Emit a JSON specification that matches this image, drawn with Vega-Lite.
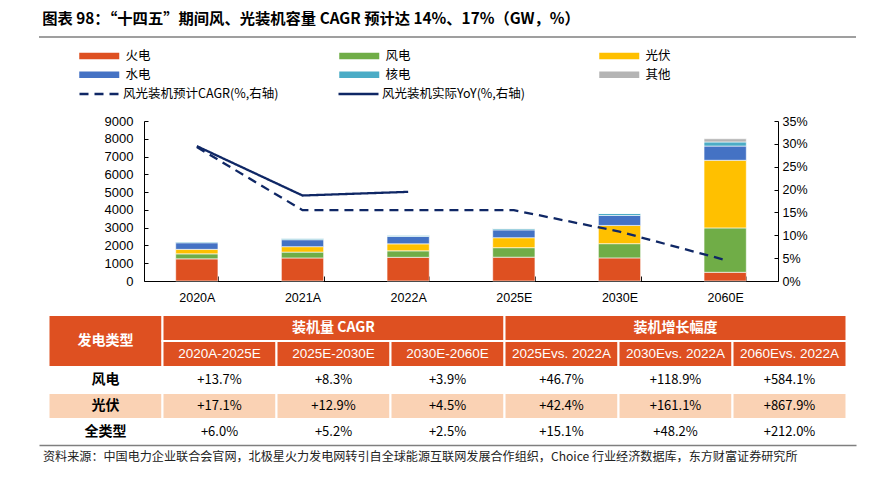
{
  "$schema": "https://vega.github.io/schema/vega-lite/v6.json",
  "background": "white",
  "padding": {"left": 38, "top": 11, "right": 8, "bottom": 4},
  "config": {
    "view": {"stroke": null},
    "font": "Noto Sans CJK SC",
    "axis": {"labelFont": "Liberation Sans", "labelColor": "#000000", "domainColor": "#000000", "tickColor": "#000000", "grid": false, "labelOverlap": false},
    "legend": {"padding": 0}
  },
  "title": {"text": "图表 98：“十四五”期间风、光装机容量 CAGR 预计达 14%、17%（GW，%）", "anchor": "start", "font": "Noto Sans CJK SC", "fontSize": 15.3, "fontWeight": "bold", "color": "#000000", "dx": 4, "offset": 9},
  "datasets": {
    "bars": [
      {"year": "2020A", "type": "火电", "gw": 1245, "k": 1},
      {"year": "2020A", "type": "风电", "gw": 282, "k": 2},
      {"year": "2020A", "type": "光伏", "gw": 253, "k": 3},
      {"year": "2020A", "type": "水电", "gw": 370, "k": 4},
      {"year": "2020A", "type": "核电", "gw": 50, "k": 5},
      {"year": "2021A", "type": "火电", "gw": 1297, "k": 1},
      {"year": "2021A", "type": "风电", "gw": 328, "k": 2},
      {"year": "2021A", "type": "光伏", "gw": 306, "k": 3},
      {"year": "2021A", "type": "水电", "gw": 391, "k": 4},
      {"year": "2021A", "type": "核电", "gw": 53, "k": 5},
      {"year": "2022A", "type": "火电", "gw": 1332, "k": 1},
      {"year": "2022A", "type": "风电", "gw": 365, "k": 2},
      {"year": "2022A", "type": "光伏", "gw": 393, "k": 3},
      {"year": "2022A", "type": "水电", "gw": 414, "k": 4},
      {"year": "2022A", "type": "核电", "gw": 56, "k": 5},
      {"year": "2025E", "type": "火电", "gw": 1340, "k": 1},
      {"year": "2025E", "type": "风电", "gw": 535, "k": 2},
      {"year": "2025E", "type": "光伏", "gw": 560, "k": 3},
      {"year": "2025E", "type": "水电", "gw": 440, "k": 4},
      {"year": "2025E", "type": "核电", "gw": 70, "k": 5},
      {"year": "2025E", "type": "其他", "gw": 6, "k": 6},
      {"year": "2030E", "type": "火电", "gw": 1300, "k": 1},
      {"year": "2030E", "type": "风电", "gw": 800, "k": 2},
      {"year": "2030E", "type": "光伏", "gw": 1026, "k": 3},
      {"year": "2030E", "type": "水电", "gw": 560, "k": 4},
      {"year": "2030E", "type": "核电", "gw": 110, "k": 5},
      {"year": "2030E", "type": "其他", "gw": 4, "k": 6},
      {"year": "2060E", "type": "火电", "gw": 490, "k": 1},
      {"year": "2060E", "type": "风电", "gw": 2497, "k": 2},
      {"year": "2060E", "type": "光伏", "gw": 3804, "k": 3},
      {"year": "2060E", "type": "水电", "gw": 800, "k": 4},
      {"year": "2060E", "type": "核电", "gw": 230, "k": 5},
      {"year": "2060E", "type": "其他", "gw": 180, "k": 6}
    ],
    "lines": [
      {"year": "2020A", "type": "风光装机预计CAGR(%,右轴)", "pct": 0.293},
      {"year": "2021A", "type": "风光装机预计CAGR(%,右轴)", "pct": 0.155},
      {"year": "2022A", "type": "风光装机预计CAGR(%,右轴)", "pct": 0.155},
      {"year": "2025E", "type": "风光装机预计CAGR(%,右轴)", "pct": 0.155},
      {"year": "2030E", "type": "风光装机预计CAGR(%,右轴)", "pct": 0.108},
      {"year": "2060E", "type": "风光装机预计CAGR(%,右轴)", "pct": 0.046},
      {"year": "2020A", "type": "风光装机实际YoY(%,右轴)", "pct": 0.295},
      {"year": "2021A", "type": "风光装机实际YoY(%,右轴)", "pct": 0.187},
      {"year": "2022A", "type": "风光装机实际YoY(%,右轴)", "pct": 0.195}
    ],
    "thead": [
      {"c0": "发电类型", "c1": "发电类型", "r0": "h1", "r1": "h2"},
      {"c0": "2020A-2025E", "c1": "2030E-2060E", "r0": "h1", "r1": "h1"},
      {"c0": "2025Evs. 2022A", "c1": "2060Evs. 2022A", "r0": "h1", "r1": "h1"},
      {"c0": "2020A-2025E", "c1": "2020A-2025E", "r0": "h2", "r1": "h2"},
      {"c0": "2025E-2030E", "c1": "2025E-2030E", "r0": "h2", "r1": "h2"},
      {"c0": "2030E-2060E", "c1": "2030E-2060E", "r0": "h2", "r1": "h2"},
      {"c0": "2025Evs. 2022A", "c1": "2025Evs. 2022A", "r0": "h2", "r1": "h2"},
      {"c0": "2030Evs. 2022A", "c1": "2030Evs. 2022A", "r0": "h2", "r1": "h2"},
      {"c0": "2060Evs. 2022A", "c1": "2060Evs. 2022A", "r0": "h2", "r1": "h2"}
    ],
    "thtext": [
      {"c": "发电类型", "r": "h1", "t": "发电类型"},
      {"c": "2025E-2030E", "r": "h1", "t": "装机量 CAGR"},
      {"c": "2030Evs. 2022A", "r": "h1", "t": "装机增长幅度"},
      {"c": "2020A-2025E", "r": "h2", "t": "2020A-2025E"},
      {"c": "2025E-2030E", "r": "h2", "t": "2025E-2030E"},
      {"c": "2030E-2060E", "r": "h2", "t": "2030E-2060E"},
      {"c": "2025Evs. 2022A", "r": "h2", "t": "2025Evs. 2022A"},
      {"c": "2030Evs. 2022A", "r": "h2", "t": "2030Evs. 2022A"},
      {"c": "2060Evs. 2022A", "r": "h2", "t": "2060Evs. 2022A"}
    ],
    "tbody": [
      {"row": "风电", "col": "发电类型", "t": "风电"},
      {"row": "风电", "col": "2020A-2025E", "t": "+13.7%"},
      {"row": "风电", "col": "2025E-2030E", "t": "+8.3%"},
      {"row": "风电", "col": "2030E-2060E", "t": "+3.9%"},
      {"row": "风电", "col": "2025Evs. 2022A", "t": "+46.7%"},
      {"row": "风电", "col": "2030Evs. 2022A", "t": "+118.9%"},
      {"row": "风电", "col": "2060Evs. 2022A", "t": "+584.1%"},
      {"row": "光伏", "col": "发电类型", "t": "光伏"},
      {"row": "光伏", "col": "2020A-2025E", "t": "+17.1%"},
      {"row": "光伏", "col": "2025E-2030E", "t": "+12.9%"},
      {"row": "光伏", "col": "2030E-2060E", "t": "+4.5%"},
      {"row": "光伏", "col": "2025Evs. 2022A", "t": "+42.4%"},
      {"row": "光伏", "col": "2030Evs. 2022A", "t": "+161.1%"},
      {"row": "光伏", "col": "2060Evs. 2022A", "t": "+867.9%"},
      {"row": "全类型", "col": "发电类型", "t": "全类型"},
      {"row": "全类型", "col": "2020A-2025E", "t": "+6.0%"},
      {"row": "全类型", "col": "2025E-2030E", "t": "+5.2%"},
      {"row": "全类型", "col": "2030E-2060E", "t": "+2.5%"},
      {"row": "全类型", "col": "2025Evs. 2022A", "t": "+15.1%"},
      {"row": "全类型", "col": "2030Evs. 2022A", "t": "+48.2%"},
      {"row": "全类型", "col": "2060Evs. 2022A", "t": "+212.0%"}
    ]
  },
  "vconcat": [
    {
      "spacing": 77,
      "vconcat": [
        {
          "width": 817,
          "height": 1,
          "data": {"values": [{"v": 0}]},
          "mark": {"type": "rule", "color": "#7F7F7F", "strokeWidth": 1.5},
          "encoding": {
            "x": {"datum": 0, "type": "quantitative", "scale": {"domain": [0, 1]}, "axis": null},
            "x2": {"datum": 1},
            "y": {"datum": 0, "type": "quantitative", "scale": {"domain": [0, 1], "reverse": true}, "axis": null}
          }
        },
        {
          "spacing": 0,
          "hconcat": [
            {
              "width": 65,
              "height": 160,
              "data": {"values": [{"v": 0}]},
              "mark": {"type": "text"},
              "encoding": {"text": {"value": ""}}
            },
            {
              "width": 634,
              "height": 160,
              "layer": [
                {
                  "data": {"name": "bars"},
                  "mark": {"type": "bar", "stroke": "white", "strokeWidth": 0.6},
                  "encoding": {
                    "x": {"field": "year", "type": "nominal", "sort": null,
                          "scale": {"domain": ["2020A", "2021A", "2022A", "2025E", "2030E", "2060E"], "paddingInner": 0.6, "paddingOuter": 0.3},
                          "axis": {"orient": "bottom", "title": null, "labelAngle": 0, "labelFontSize": 12.5, "tickBand": "extent", "tickSize": -5, "labelPadding": 15}},
                    "y": {"field": "gw", "type": "quantitative", "stack": "zero",
                          "scale": {"domain": [0, 9000], "nice": false},
                          "axis": {"orient": "left", "title": null, "format": "d", "values": [0, 1000, 2000, 3000, 4000, 5000, 6000, 7000, 8000, 9000], "labelFontSize": 13, "tickSize": -4, "labelPadding": 15}},
                    "color": {"field": "type", "type": "nominal",
                              "scale": {"domain": ["火电", "风电", "光伏", "水电", "核电", "其他"],
                                        "range": ["#DE5021", "#70AD47", "#FFC000", "#4472C4", "#4BACC6", "#B4B4B4"]},
                              "legend": {
                                "orient": "none", "legendX": 39, "legendY": 12.5, "direction": "horizontal", "columns": 3,
                                "gridAlign": "all", "columnPadding": 187, "rowPadding": 6, "title": null,
                                "symbolType": "M-1,-0.65H7V0.65H-1Z", "symbolSize": 100, "symbolStrokeWidth": 0, "labelOffset": 35, "labelLimit": 400,
                                "labelFont": "Noto Sans CJK SC", "labelFontSize": 12.5, "labelColor": "#000000"
                              }},
                    "order": {"field": "k", "type": "quantitative", "sort": "ascending"}
                  }
                },
                {
                  "data": {"name": "lines"},
                  "mark": {"type": "line", "strokeWidth": 2.3, "color": "#0F2765"},
                  "encoding": {
                    "x": {"field": "year", "type": "nominal", "sort": null},
                    "y": {"field": "pct", "type": "quantitative",
                          "scale": {"domain": [0, 0.35], "nice": false},
                          "axis": {"orient": "right", "title": null, "values": [0, 0.05, 0.1, 0.15, 0.2, 0.25, 0.3, 0.35], "format": ".0%", "labelFontSize": 12.5, "tickSize": -4, "labelPadding": 8}},
                    "strokeDash": {"field": "type", "type": "nominal",
                                   "scale": {"domain": ["风光装机预计CAGR(%,右轴)", "风光装机实际YoY(%,右轴)"], "range": [[9, 6], [1, 0]]},
                                   "legend": {
                                     "orient": "none", "legendX": 39, "legendY": 50.5, "direction": "horizontal", "columns": 2,
                                     "gridAlign": "all", "columnPadding": 54, "title": null,
                                     "symbolType": "M-1,0H7", "symbolSize": 100, "symbolStrokeWidth": 2.5, "symbolStrokeColor": "#0F2765",
                                     "labelOffset": 32, "labelLimit": 400,
                                     "labelFont": "Noto Sans CJK SC", "labelFontSize": 12.5, "labelColor": "#000000"
                                   }}
                  }
                }
              ],
              "resolve": {"scale": {"y": "independent"}, "axis": {"y": "independent"}}
            }
          ]
        }
      ]
    },
    {
      "width": 817,
      "height": 130,
      "title": {"text": "资料来源：中国电力企业联合会官网，北极星火力发电网转引自全球能源互联网发展合作组织，Choice 行业经济数据库，东方财富证券研究所", "orient": "bottom", "anchor": "start", "font": "Noto Sans CJK SC", "fontSize": 12.1, "fontWeight": "normal", "color": "#222222", "dx": 4, "offset": 5},
      "layer": [
        {
          "data": {"name": "thead"},
          "mark": {"type": "rect", "fill": "#DE5021", "stroke": "white", "strokeWidth": 2},
          "encoding": {
            "x": {"field": "c0", "type": "nominal", "bandPosition": 0,
                  "scale": {"domain": ["发电类型", "2020A-2025E", "2025E-2030E", "2030E-2060E", "2025Evs. 2022A", "2030Evs. 2022A", "2060Evs. 2022A"], "paddingInner": 0, "paddingOuter": 0.0833},
                  "axis": {"orient": "bottom", "labels": false, "ticks": false, "grid": false, "title": null, "domain": true, "domainColor": "#7F7F7F", "domainWidth": 1.5, "zindex": 1}},
            "x2": {"field": "c1", "bandPosition": 1},
            "y": {"field": "r0", "type": "nominal", "bandPosition": 0,
                  "scale": {"domain": ["h1", "h2", "风电", "光伏", "全类型"], "paddingInner": 0, "paddingOuter": 0}, "axis": null},
            "y2": {"field": "r1", "bandPosition": 1}
          }
        },
        {
          "data": {"name": "tbody"},
          "mark": {"type": "rect", "stroke": "white", "strokeWidth": 2},
          "encoding": {
            "x": {"field": "col", "type": "nominal",
                  "axis": {"orient": "bottom", "labels": false, "ticks": false, "grid": false, "title": null, "domain": true, "domainColor": "#7F7F7F", "domainWidth": 1.5, "zindex": 1}},
            "y": {"field": "row", "type": "nominal", "axis": null},
            "fill": {"condition": {"test": "datum.row === '光伏'", "value": "#FAD2B4"}, "value": "#FFFFFF"}
          }
        },
        {
          "data": {"name": "thtext"},
          "transform": [{"filter": "datum.r === 'h1' && datum.c !== '发电类型'"}],
          "mark": {"type": "text", "color": "white", "font": "Noto Sans CJK SC", "fontSize": 14, "fontWeight": "bold"},
          "encoding": {
            "x": {"field": "c", "type": "nominal", "bandPosition": 0.5,
                  "axis": {"orient": "bottom", "labels": false, "ticks": false, "grid": false, "title": null, "domain": true, "domainColor": "#7F7F7F", "domainWidth": 1.5, "zindex": 1}},
            "y": {"field": "r", "type": "nominal", "bandPosition": 0.5, "axis": null},
            "text": {"field": "t"}
          }
        },
        {
          "data": {"name": "thtext"},
          "transform": [{"filter": "datum.c === '发电类型'"}],
          "mark": {"type": "text", "color": "white", "font": "Noto Sans CJK SC", "fontSize": 14, "fontWeight": "bold"},
          "encoding": {
            "x": {"field": "c", "type": "nominal", "bandPosition": 0.5,
                  "axis": {"orient": "bottom", "labels": false, "ticks": false, "grid": false, "title": null, "domain": true, "domainColor": "#7F7F7F", "domainWidth": 1.5, "zindex": 1}},
            "y": {"field": "r", "type": "nominal", "bandPosition": 1, "axis": null},
            "text": {"field": "t"}
          }
        },
        {
          "data": {"name": "thtext"},
          "transform": [{"filter": "datum.r === 'h2'"}],
          "mark": {"type": "text", "color": "white", "font": "Liberation Sans", "fontSize": 13.5},
          "encoding": {
            "x": {"field": "c", "type": "nominal", "bandPosition": 0.5,
                  "axis": {"orient": "bottom", "labels": false, "ticks": false, "grid": false, "title": null, "domain": true, "domainColor": "#7F7F7F", "domainWidth": 1.5, "zindex": 1}},
            "y": {"field": "r", "type": "nominal", "bandPosition": 0.5, "axis": null},
            "text": {"field": "t"}
          }
        },
        {
          "data": {"name": "tbody"},
          "transform": [{"filter": "datum.col === '发电类型'"}],
          "mark": {"type": "text", "color": "#000000", "font": "Noto Sans CJK SC", "fontSize": 14, "fontWeight": "bold"},
          "encoding": {
            "x": {"field": "col", "type": "nominal", "bandPosition": 0.5,
                  "axis": {"orient": "bottom", "labels": false, "ticks": false, "grid": false, "title": null, "domain": true, "domainColor": "#7F7F7F", "domainWidth": 1.5, "zindex": 1}},
            "y": {"field": "row", "type": "nominal", "bandPosition": 0.5, "axis": null},
            "text": {"field": "t"}
          }
        },
        {
          "data": {"name": "tbody"},
          "transform": [{"filter": "datum.col !== '发电类型'"}],
          "mark": {"type": "text", "color": "#000000", "font": "Noto Sans CJK SC", "fontSize": 13},
          "encoding": {
            "x": {"field": "col", "type": "nominal", "bandPosition": 0.5,
                  "axis": {"orient": "bottom", "labels": false, "ticks": false, "grid": false, "title": null, "domain": true, "domainColor": "#7F7F7F", "domainWidth": 1.5, "zindex": 1}},
            "y": {"field": "row", "type": "nominal", "bandPosition": 0.5, "axis": null},
            "text": {"field": "t"}
          }
        }
      ]
    }
  ],
  "spacing": 10
}
